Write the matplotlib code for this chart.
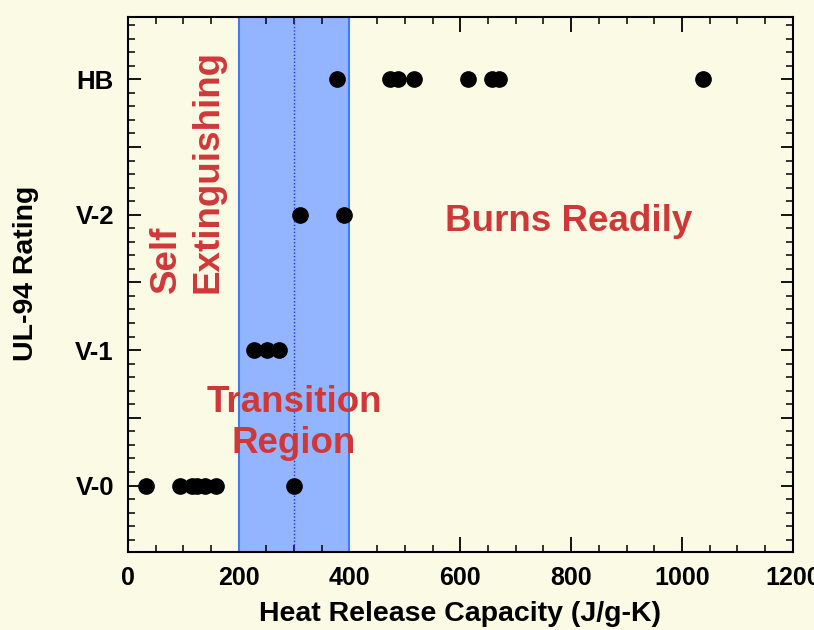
import matplotlib
matplotlib.use("Agg")
import matplotlib.pyplot as plt
from matplotlib.ticker import MultipleLocator, FixedLocator

# Data
ratings = ["V-0", "V-1", "V-2", "HB"]
v0_hrc = [33, 95, 115, 125, 140, 160, 300]
v1_hrc = [228, 252, 272]
v2_hrc = [310, 390]
hb_hrc = [377, 473, 487, 516, 614, 657, 670, 1038]
series = [v0_hrc, v1_hrc, v2_hrc, hb_hrc]

x_ticks = [0, 200, 400, 600, 800, 1000, 1200]
transition = (200, 400)
midline = 300

bg = "#FAFAE5"
red = "#D03838"

fig = plt.figure(figsize=(8.14, 6.3), dpi=100, facecolor=bg)
ax = fig.add_axes([0.157, 0.124, 0.817, 0.849])
ax.set_facecolor(bg)

ax.axvspan(transition[0], transition[1], facecolor="#93B5FF", edgecolor="none", zorder=1)
for xv in transition:
    ax.axvline(xv, color="#3A7BFF", lw=1.5, zorder=2)
ax.axvline(midline, color="#2B2BFF", lw=1.0, ls=(0, (1, 1.5)), zorder=2)

for i, vals in enumerate(series):
    ax.plot(vals, [i] * len(vals), "o", color="black", ms=11, zorder=5, ls="none")

ax.set_xlim(0, 1200)
ax.set_ylim(-0.49, 3.46)

ax.xaxis.set_major_locator(FixedLocator(x_ticks))
ax.xaxis.set_minor_locator(MultipleLocator(50))

y_major = []
y_labels = []
for i, r in enumerate(ratings):
    y_major += [i - 0.5, i]
    y_labels += ["", r]
y_major.append(len(ratings) - 0.5)
y_labels.append("")
ax.yaxis.set_major_locator(FixedLocator(y_major))
ax.set_yticklabels(y_labels)
ax.yaxis.set_minor_locator(MultipleLocator(0.1))

ax.tick_params(which="both", direction="in", top=True, right=True, color="black")
ax.tick_params(which="major", length=9, width=1.3)
ax.tick_params(which="minor", length=5, width=1.1)
ax.tick_params(axis="x", which="major", length=11, pad=10)
ax.tick_params(axis="y", which="major", pad=10)

for sp in ax.spines.values():
    sp.set_linewidth(1.5)
    sp.set_zorder(6)

narrow = ["Liberation Sans Narrow", "Liberation Sans", "DejaVu Sans"]
arial = ["Liberation Sans", "DejaVu Sans"]
for lab in ax.get_xticklabels():
    lab.set_fontfamily(narrow)
    lab.set_fontweight("bold")
    lab.set_fontsize(18)
for lab in ax.get_yticklabels():
    lab.set_fontfamily(arial)
    lab.set_fontweight("bold")
    lab.set_fontsize(18.5)

ax.set_xlabel("Heat Release Capacity (J/g-K)", family=narrow, fontweight="bold",
              fontsize=20.5, labelpad=8)
ax.set_ylabel("UL-94 Rating", family=arial, fontweight="bold", fontsize=20.5)
ax.yaxis.set_label_coords(-0.133, 0.52)

ax.text(795, 1.95, "Burns Readily", family=arial, fontweight="bold", fontsize=26.5,
        color=red, ha="center", va="center", zorder=7)
ax.text(300, 0.465, "Transition\nRegion", family=arial, fontweight="bold", fontsize=26.5,
        color=red, ha="center", va="center", linespacing=1.22, zorder=7)
ax.text(107, 1.424, "Self\nExtinguishing", family=arial, fontweight="bold", fontsize=26.5,
        color=red, rotation=90, ha="left", va="center", multialignment="left",
        linespacing=1.22, zorder=7, rotation_mode="anchor")

fig.savefig("out.png", dpi=100, facecolor=bg)
